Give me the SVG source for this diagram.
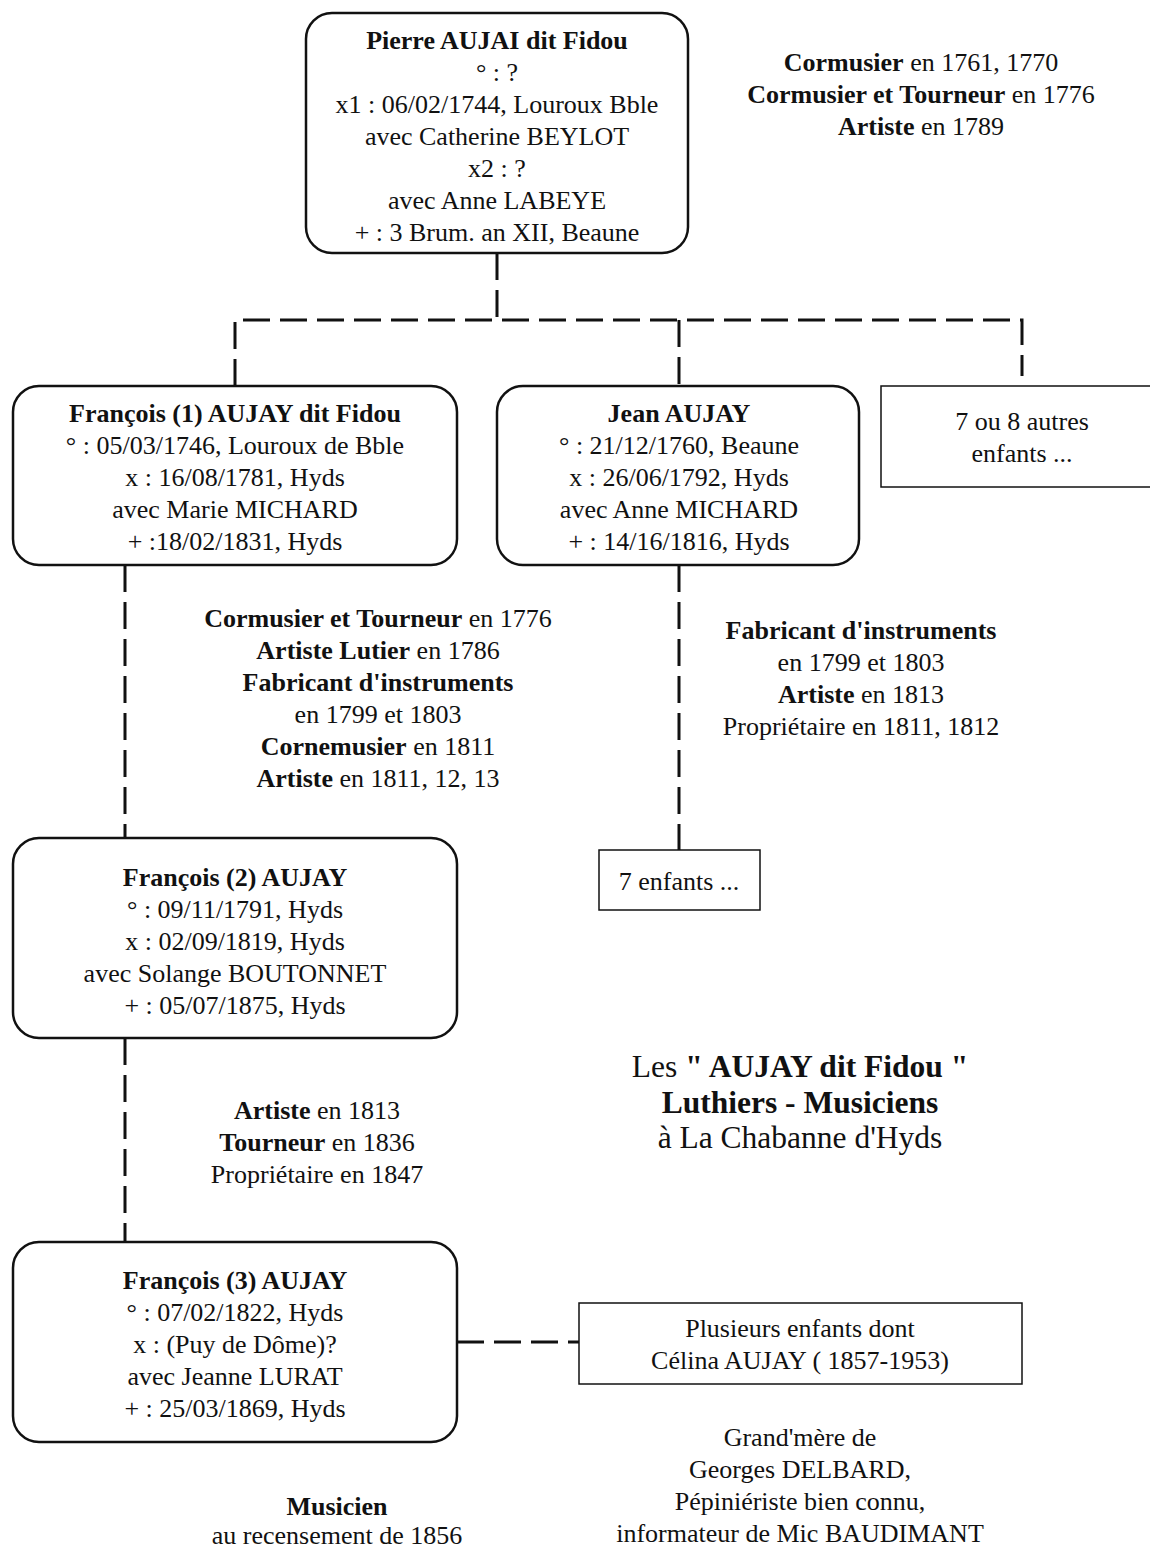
<svg xmlns="http://www.w3.org/2000/svg" width="1150" height="1550" viewBox="0 0 1150 1550">
<style>
text{font-family:"Liberation Serif","Times New Roman",serif;font-size:26px;fill:#111;text-anchor:middle}
.b{font-weight:bold}
.t{font-size:31.5px}
.rb{fill:#fff;stroke:#111;stroke-width:2.5}
.sb{fill:#fff;stroke:#111;stroke-width:1.5}
.d{fill:none;stroke:#111;stroke-width:3;stroke-dasharray:27 10}
</style>
<rect width="1150" height="1550" fill="#fff"/>
<g id="connectors">
<path class="d" d="M497 253V320"/>
<path class="d" d="M235 386V320H1022V376"/>
<path class="d" d="M679 320V386"/>
<path class="d" d="M125 565V838"/>
<path class="d" d="M125 1038V1242"/>
<path class="d" d="M679 565V850"/>
<path class="d" d="M457 1342H579"/>
</g>
<g id="pierre">
<rect class="rb" x="306" y="13" width="382" height="240" rx="26"/>
<text x="497" y="49" class="b">Pierre AUJAI dit Fidou</text>
<text x="497" y="81">° : ?</text>
<text x="497" y="113">x1 : 06/02/1744, Louroux Bble</text>
<text x="497" y="145">avec Catherine BEYLOT</text>
<text x="497" y="177">x2 : ?</text>
<text x="497" y="209">avec Anne LABEYE</text>
<text x="497" y="241">+ : 3 Brum. an XII, Beaune</text>
</g>
<g id="pierre-notes">
<text x="921" y="71"><tspan class="b">Cormusier</tspan> en 1761, 1770</text>
<text x="921" y="103"><tspan class="b">Cormusier et Tourneur</tspan> en 1776</text>
<text x="921" y="135"><tspan class="b">Artiste</tspan> en 1789</text>
</g>
<g id="francois1">
<rect class="rb" x="13" y="386" width="444" height="179" rx="26"/>
<text x="235" y="422" class="b">François (1) AUJAY dit Fidou</text>
<text x="235" y="454">° : 05/03/1746, Louroux de Bble</text>
<text x="235" y="486">x : 16/08/1781, Hyds</text>
<text x="235" y="518">avec Marie MICHARD</text>
<text x="235" y="550">+ :18/02/1831, Hyds</text>
</g>
<g id="jean">
<rect class="rb" x="497" y="386" width="362" height="179" rx="26"/>
<text x="679" y="422" class="b">Jean AUJAY</text>
<text x="679" y="454">° : 21/12/1760, Beaune</text>
<text x="679" y="486">x : 26/06/1792, Hyds</text>
<text x="679" y="518">avec Anne MICHARD</text>
<text x="679" y="550">+ : 14/16/1816, Hyds</text>
</g>
<g id="autres">
<rect class="sb" x="881" y="386" width="280" height="101"/>
<text x="1022" y="430">7 ou 8 autres</text>
<text x="1022" y="462">enfants ...</text>
</g>
<g id="francois1-notes">
<text x="378" y="627"><tspan class="b">Cormusier et Tourneur</tspan> en 1776</text>
<text x="378" y="659"><tspan class="b">Artiste Lutier</tspan> en 1786</text>
<text x="378" y="691" class="b">Fabricant d'instruments</text>
<text x="378" y="723">en 1799 et 1803</text>
<text x="378" y="755"><tspan class="b">Cornemusier</tspan> en 1811</text>
<text x="378" y="787"><tspan class="b">Artiste</tspan> en 1811, 12, 13</text>
</g>
<g id="jean-notes">
<text x="861" y="639" class="b">Fabricant d'instruments</text>
<text x="861" y="671">en 1799 et 1803</text>
<text x="861" y="703"><tspan class="b">Artiste</tspan> en 1813</text>
<text x="861" y="735">Propriétaire en 1811, 1812</text>
</g>
<g id="sept">
<rect class="sb" x="599" y="850" width="161" height="60"/>
<text x="679" y="890">7 enfants ...</text>
</g>
<g id="francois2">
<rect class="rb" x="13" y="838" width="444" height="200" rx="26"/>
<text x="235" y="886" class="b">François (2) AUJAY</text>
<text x="235" y="918">° : 09/11/1791, Hyds</text>
<text x="235" y="950">x : 02/09/1819, Hyds</text>
<text x="235" y="982">avec Solange BOUTONNET</text>
<text x="235" y="1014">+ : 05/07/1875, Hyds</text>
</g>
<g id="title">
<text x="800" y="1077" class="t">Les <tspan class="b">" AUJAY dit Fidou "</tspan></text>
<text x="800" y="1113" class="t b">Luthiers - Musiciens</text>
<text x="800" y="1148" class="t">à La Chabanne d'Hyds</text>
</g>
<g id="francois2-notes">
<text x="317" y="1119"><tspan class="b">Artiste</tspan> en 1813</text>
<text x="317" y="1151"><tspan class="b">Tourneur</tspan> en 1836</text>
<text x="317" y="1183">Propriétaire en 1847</text>
</g>
<g id="francois3">
<rect class="rb" x="13" y="1242" width="444" height="200" rx="26"/>
<text x="235" y="1289" class="b">François (3) AUJAY</text>
<text x="235" y="1321">° : 07/02/1822, Hyds</text>
<text x="235" y="1353">x : (Puy de Dôme)?</text>
<text x="235" y="1385">avec Jeanne LURAT</text>
<text x="235" y="1417">+ : 25/03/1869, Hyds</text>
</g>
<g id="plusieurs">
<rect class="sb" x="579" y="1303" width="443" height="81"/>
<text x="800" y="1337">Plusieurs enfants dont</text>
<text x="800" y="1369">Célina AUJAY ( 1857-1953)</text>
</g>
<g id="celina-notes">
<text x="800" y="1446">Grand'mère de</text>
<text x="800" y="1478">Georges DELBARD,</text>
<text x="800" y="1510">Pépiniériste bien connu,</text>
<text x="800" y="1542">informateur de Mic BAUDIMANT</text>
</g>
<g id="francois3-notes">
<text x="337" y="1515" class="b">Musicien</text>
<text x="337" y="1544">au recensement de 1856</text>
</g>
</svg>
